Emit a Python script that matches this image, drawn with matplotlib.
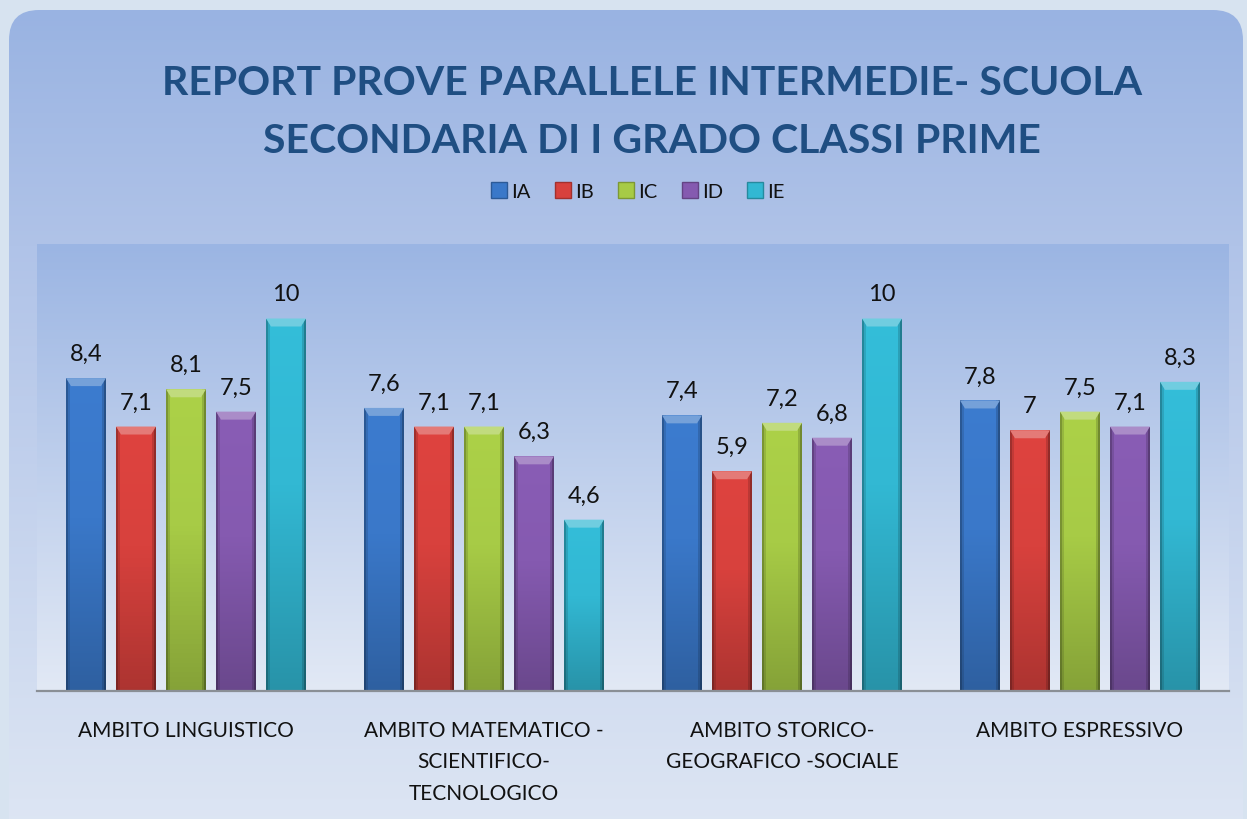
import numpy as np
import matplotlib
matplotlib.use("Agg")
import matplotlib.pyplot as plt
from matplotlib.patches import FancyBboxPatch, Polygon, Patch, Rectangle
from matplotlib.colors import to_rgb

# ---- data ----
categories = ["AMBITO LINGUISTICO",
              "AMBITO MATEMATICO -\nSCIENTIFICO-\nTECNOLOGICO",
              "AMBITO STORICO-\nGEOGRAFICO -SOCIALE",
              "AMBITO ESPRESSIVO"]
series_names = ["IA", "IB", "IC", "ID", "IE"]
IA = [8.4, 7.6, 7.4, 7.8]
IB = [7.1, 7.1, 5.9, 7.0]
IC = [8.1, 7.1, 7.2, 7.5]
ID = [7.5, 6.3, 6.8, 7.1]
IE = [10.0, 4.6, 10.0, 8.3]
series_values = [IA, IB, IC, ID, IE]
series_colors = ["#3a78c9", "#d8413d", "#a7cb46", "#855ab0", "#32b8d3"]
title_lines = ["REPORT PROVE PARALLELE INTERMEDIE- SCUOLA",
               "SECONDARIA DI I GRADO CLASSI PRIME"]

FONT = ["Lato", "DejaVu Sans"]
plt.rcParams['font.family'] = FONT

W, H = 1247, 820
fig = plt.figure(figsize=(W / 100, H / 100), dpi=100)

# ---- background layer in pixel coordinates ----
bg = fig.add_axes([0, 0, 1, 1])
bg.set_xlim(0, W)
bg.set_ylim(H, 0)
bg.axis("off")
bg.add_patch(Rectangle((0, 0), W, H, color="#d7e3f0", zorder=0))


def vgrad(stops, n=400):
    pos = np.array([s[0] for s in stops])
    cols = np.array([to_rgb(s[1]) for s in stops])
    t = np.linspace(0, 1, n)
    arr = np.stack([np.interp(t, pos, cols[:, k]) for k in range(3)], axis=1)
    return arr.reshape(n, 1, 3)


panel = FancyBboxPatch((9, 11), 1234, 840, boxstyle="round,pad=0,rounding_size=30",
                       facecolor="none", edgecolor="none", zorder=1)
bg.add_patch(panel)
im = bg.imshow(vgrad([(0, "#99b3e2"), (0.28, "#b0c3e8"), (1, "#dfe7f4")]),
               extent=(9, 1243, 851, 11), origin="upper", aspect="auto", zorder=1)
im.set_clip_path(panel)

for yy, line in zip([95, 153], title_lines):
    bg.text(652, yy, line, ha="center", va="baseline", fontsize=29.5, fontweight="bold",
            color="#1f4e82", family=FONT)

# ---- main axes ----
x0, x1, ytop, ybot = 37, 1229, 245, 692
ax = fig.add_axes([x0 / W, (H - ybot) / H, (x1 - x0) / W, (ybot - ytop) / H])
ax.set_xlim(-0.5, 3.5)
ax.set_ylim(0, 12)
ax.patch.set_alpha(0)
ax.imshow(vgrad([(0, "#9bb5e3"), (1, "#e2e9f5")]), extent=(0, 1, 0, 1),
          transform=ax.transAxes, aspect="auto", zorder=0)

px_x = 4.0 / (x1 - x0)
px_y = 12.0 / (ybot - ytop)
step = 50 * px_x
bw = 40 * px_x
xs = np.arange(len(categories))

for j, (name, vals, col) in enumerate(zip(series_names, series_values, series_colors)):
    pos = xs + (j - 2) * step
    bars = ax.bar(pos, vals, width=bw, color=col, zorder=2, linewidth=0)
    base = np.array(to_rgb(col))
    for b, v in zip(bars, vals):
        bx, by = b.get_x(), b.get_y()
        bwid, bh = b.get_width(), b.get_height()
        n, m = 64, 40
        vf = np.interp(np.linspace(0, 1, n), [0, 0.45, 1], [1.03, 1.0, 0.8]).reshape(n, 1)
        hf = np.ones(m)
        hf[:2] = 0.72
        hf[-2:] = 0.66
        hf[2:4] = 0.88
        hf[-4:-2] = 0.85
        arr = base.reshape(1, 1, 3) * vf[:, :, None] * hf[None, :, None]
        g = ax.imshow(np.clip(arr, 0, 1), extent=(bx, bx + bwid, by, by + bh),
                      origin="upper", aspect="auto", zorder=2.1)
        g.set_clip_path(b)
        # top bevel
        dy = 8 * px_y
        dx = 5 * px_x
        light = base + (1 - base) * 0.3
        top = by + bh
        ax.add_patch(Polygon([(bx, top), (bx + bwid, top), (bx + bwid - dx, top - dy),
                              (bx + dx, top - dy)], closed=True, facecolor=light,
                             edgecolor="none", zorder=2.2))
        lbl = ("%g" % v).replace(".", ",")
        ax.annotate(lbl, (bx + bwid / 2, top), xytext=(0, 13), textcoords="offset points",
                    ha="center", va="baseline", fontsize=17, color="#111111", zorder=3)

ax.set_xticks(xs)
ax.set_xticklabels(categories, fontsize=15, linespacing=1.7, color="#111111")
ax.tick_params(axis="x", length=0, pad=21)
ax.set_yticks([])
for s in ["top", "left", "right"]:
    ax.spines[s].set_visible(False)
ax.spines["bottom"].set_color("#8a8f96")
ax.spines["bottom"].set_linewidth(1.6)
ax.spines["bottom"].set_zorder(4)

handles = [Patch(facecolor=c, edgecolor=np.array(to_rgb(c)) * 0.75, linewidth=1)
           for c in series_colors]
fig.legend(handles, series_names, loc="center", bbox_to_anchor=(638 / W, 1 - 192 / H),
           ncol=5, frameon=False, fontsize=14.5, handlelength=0.8, handleheight=0.85,
           handletextpad=0.2, columnspacing=1.2, labelcolor="#111111")

fig.savefig("out.png", dpi=100)
